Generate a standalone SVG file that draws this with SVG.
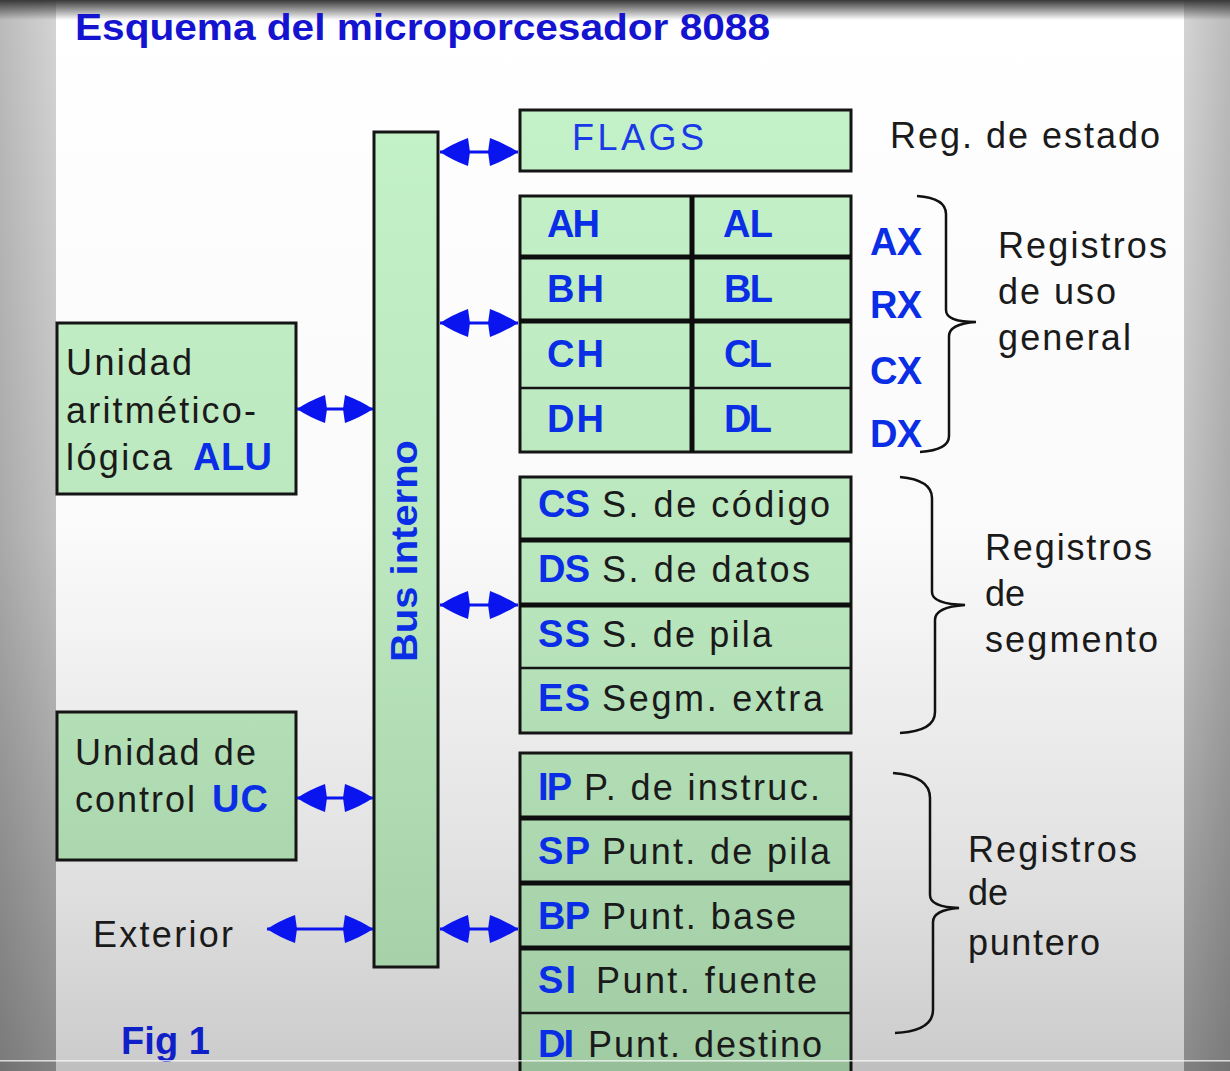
<svg xmlns="http://www.w3.org/2000/svg" width="1230" height="1071" viewBox="0 0 1230 1071">
<defs>
<linearGradient id="bg" x1="0" y1="0" x2="0" y2="1071" gradientUnits="userSpaceOnUse">
<stop offset="0" stop-color="#ffffff"/><stop offset="0.5" stop-color="#fafafa"/><stop offset="0.8" stop-color="#e2e2e2"/><stop offset="1" stop-color="#cbcbcb"/>
</linearGradient>
<linearGradient id="side" x1="0" y1="0" x2="0" y2="1071" gradientUnits="userSpaceOnUse">
<stop offset="0" stop-color="#d4d4d4"/><stop offset="0.5" stop-color="#c0c0c0"/><stop offset="1" stop-color="#8a8a8a"/>
</linearGradient>
<linearGradient id="sideL" x1="0" y1="0" x2="1" y2="0">
<stop offset="0" stop-color="#000" stop-opacity="0.12"/><stop offset="1" stop-color="#000" stop-opacity="0"/>
</linearGradient>
<linearGradient id="sideR" x1="0" y1="0" x2="1" y2="0">
<stop offset="0" stop-color="#000" stop-opacity="0"/><stop offset="1" stop-color="#000" stop-opacity="0.12"/>
</linearGradient>
<linearGradient id="topbar" x1="0" y1="0" x2="0" y2="1">
<stop offset="0" stop-color="#383838"/><stop offset="1" stop-color="#383838" stop-opacity="0"/>
</linearGradient>
<linearGradient id="green" x1="0" y1="100" x2="0" y2="1071" gradientUnits="userSpaceOnUse">
<stop offset="0" stop-color="#c4f2c8"/><stop offset="0.5" stop-color="#bae6bd"/><stop offset="1" stop-color="#a0cba3"/>
</linearGradient>
<marker id="ah" viewBox="0 0 30 28" refX="30" refY="14" markerWidth="30" markerHeight="28" markerUnits="userSpaceOnUse" orient="auto-start-reverse">
<path d="M2,0 Q18,6 30,14 Q18,22 2,28 L0,14 z" fill="#0a14ee"/>
</marker>
<style>
.box{fill:url(#green);stroke:#151515;stroke-width:3}
.thick{stroke:#0d0d0d;stroke-width:5}
.thin{stroke:#151515;stroke-width:2.5}
.t{font-family:"Liberation Sans",Arial,sans-serif;font-size:36px;fill:#1a1a1a}
.b{font-family:"Liberation Sans",Arial,sans-serif;font-size:38px;font-weight:bold;fill:#0a2ee6}
.blue{font-family:"Liberation Sans",Arial,sans-serif;font-size:36px;fill:#1a3ae8}
.title{font-family:"Liberation Sans",Arial,sans-serif;font-size:36px;font-weight:bold;fill:#1414d0}
.conn{stroke:#0a14ee;stroke-width:3;fill:none;marker-start:url(#ah);marker-end:url(#ah)}
.brace{stroke:#111;stroke-width:2.5;fill:none}
</style>
</defs>

<!-- background -->
<rect x="0" y="0" width="1230" height="1071" fill="url(#bg)"/>
<rect x="0" y="0" width="56" height="1071" fill="url(#side)"/>
<rect x="0" y="0" width="56" height="1071" fill="url(#sideL)"/>
<rect x="1184" y="0" width="46" height="1071" fill="url(#side)"/>
<rect x="1184" y="0" width="46" height="1071" fill="url(#sideR)"/>
<rect x="0" y="0" width="1230" height="20" fill="url(#topbar)"/>

<text class="title" x="75" y="40" textLength="695" lengthAdjust="spacingAndGlyphs">Esquema del microporcesador 8088</text>

<g id="bus">
<rect class="box" x="374" y="132" width="64" height="835"/>
<text class="b" transform="translate(417,662) rotate(-90)" x="0" y="0" textLength="222" lengthAdjust="spacingAndGlyphs" style="font-size:36px">Bus interno</text>
</g>

<g id="alu">
<rect class="box" x="57" y="323" width="239" height="171"/>
<text class="t" x="66" y="375" textLength="126" lengthAdjust="spacing">Unidad</text>
<text class="t" x="66" y="423" textLength="190" lengthAdjust="spacing">aritmético-</text>
<text class="t" x="66" y="470" textLength="106" lengthAdjust="spacing">lógica</text>
<text class="b" x="193" y="470" textLength="79" lengthAdjust="spacing">ALU</text>
</g>

<g id="uc">
<rect class="box" x="57" y="712" width="239" height="148"/>
<text class="t" x="75" y="765" textLength="181" lengthAdjust="spacing">Unidad de</text>
<text class="t" x="75" y="812" textLength="120" lengthAdjust="spacing">control</text>
<text class="b" x="212" y="812" textLength="56" lengthAdjust="spacing">UC</text>
</g>

<g id="exterior">
<text class="t" x="93" y="947" textLength="140" lengthAdjust="spacing">Exterior</text>
</g>

<g id="flags">
<rect class="box" x="520" y="110" width="331" height="61"/>
<text class="blue" x="572" y="150" textLength="132" lengthAdjust="spacing">FLAGS</text>
<text class="t" x="890" y="148" textLength="270" lengthAdjust="spacing">Reg. de estado</text>
</g>

<g id="reg-general">
<rect class="box" x="520" y="196" width="331" height="256"/>
<line class="thick" x1="692" y1="196" x2="692" y2="452"/>
<line class="thick" x1="520" y1="257" x2="851" y2="257"/>
<line class="thick" x1="520" y1="321" x2="851" y2="321"/>
<line class="thin" x1="520" y1="388" x2="851" y2="388"/>
<text class="b" x="547" y="237" textLength="53" lengthAdjust="spacing">AH</text>
<text class="b" x="723" y="237" textLength="50" lengthAdjust="spacing">AL</text>
<text class="b" x="547" y="302" textLength="57" lengthAdjust="spacing">BH</text>
<text class="b" x="724" y="302" textLength="49" lengthAdjust="spacing">BL</text>
<text class="b" x="547" y="367" textLength="57" lengthAdjust="spacing">CH</text>
<text class="b" x="724" y="367" textLength="48" lengthAdjust="spacing">CL</text>
<text class="b" x="547" y="432" textLength="57" lengthAdjust="spacing">DH</text>
<text class="b" x="724" y="432" textLength="48" lengthAdjust="spacing">DL</text>
<text class="b" x="870" y="255" textLength="52" lengthAdjust="spacing">AX</text>
<text class="b" x="870" y="318" textLength="52" lengthAdjust="spacing">RX</text>
<text class="b" x="870" y="384" textLength="52" lengthAdjust="spacing">CX</text>
<text class="b" x="870" y="447" textLength="52" lengthAdjust="spacing">DX</text>
<path class="brace" d="M917,196 Q946,198 946,214 L946,310 Q946,322 976,322 Q949,324 949,336 L949,436 Q949,450 920,452"/>
<text class="t" x="998" y="258" textLength="169" lengthAdjust="spacing">Registros</text>
<text class="t" x="998" y="304" textLength="118" lengthAdjust="spacing">de uso</text>
<text class="t" x="998" y="350" textLength="133" lengthAdjust="spacing">general</text>
</g>

<g id="reg-segmento">
<rect class="box" x="520" y="477" width="331" height="256"/>
<line class="thick" x1="520" y1="540" x2="851" y2="540"/>
<line class="thick" x1="520" y1="605" x2="851" y2="605"/>
<line class="thin" x1="520" y1="668" x2="851" y2="668"/>
<text class="b" x="538" y="517" textLength="52" lengthAdjust="spacing">CS</text>
<text class="t" x="602" y="517" textLength="228" lengthAdjust="spacing">S. de código</text>
<text class="b" x="538" y="582" textLength="52" lengthAdjust="spacing">DS</text>
<text class="t" x="602" y="582" textLength="208" lengthAdjust="spacing">S. de datos</text>
<text class="b" x="538" y="647" textLength="52" lengthAdjust="spacing">SS</text>
<text class="t" x="602" y="647" textLength="170" lengthAdjust="spacing">S. de pila</text>
<text class="b" x="538" y="711" textLength="52" lengthAdjust="spacing">ES</text>
<text class="t" x="602" y="711" textLength="221" lengthAdjust="spacing">Segm. extra</text>
<path class="brace" d="M900,477 Q932,480 932,498 L932,592 Q932,604 965,605 Q935,607 935,620 L935,712 Q935,731 900,733"/>
<text class="t" x="985" y="560" textLength="167" lengthAdjust="spacing">Registros</text>
<text class="t" x="985" y="606" textLength="40" lengthAdjust="spacing">de</text>
<text class="t" x="985" y="652" textLength="173" lengthAdjust="spacing">segmento</text>
</g>

<g id="reg-puntero">
<rect class="box" x="520" y="753" width="331" height="330"/>
<line class="thick" x1="520" y1="818" x2="851" y2="818"/>
<line class="thick" x1="520" y1="883" x2="851" y2="883"/>
<line class="thick" x1="520" y1="948" x2="851" y2="948"/>
<line class="thin" x1="520" y1="1013" x2="851" y2="1013"/>
<text class="b" x="538" y="800" textLength="34" lengthAdjust="spacing">IP</text>
<text class="t" x="584" y="800" textLength="236" lengthAdjust="spacing">P. de instruc.</text>
<text class="b" x="538" y="864" textLength="52" lengthAdjust="spacing">SP</text>
<text class="t" x="602" y="864" textLength="228" lengthAdjust="spacing">Punt. de pila</text>
<text class="b" x="538" y="929" textLength="52" lengthAdjust="spacing">BP</text>
<text class="t" x="602" y="929" textLength="194" lengthAdjust="spacing">Punt. base</text>
<text class="b" x="538" y="993" textLength="38" lengthAdjust="spacing">SI</text>
<text class="t" x="596" y="993" textLength="221" lengthAdjust="spacing">Punt. fuente</text>
<text class="b" x="538" y="1057" textLength="36" lengthAdjust="spacing">DI</text>
<text class="t" x="588" y="1057" textLength="234" lengthAdjust="spacing">Punt. destino</text>
<path class="brace" d="M893,773 Q930,776 930,798 L930,895 Q930,907 959,908 Q933,910 933,922 L933,1010 Q933,1031 895,1033"/>
<text class="t" x="968" y="862" textLength="169" lengthAdjust="spacing">Registros</text>
<text class="t" x="968" y="905" textLength="40" lengthAdjust="spacing">de</text>
<text class="t" x="968" y="955" textLength="132" lengthAdjust="spacing">puntero</text>
</g>

<g id="connectors">
<line class="conn" x1="440" y1="152" x2="518" y2="152"/>
<line class="conn" x1="440" y1="323" x2="518" y2="323"/>
<line class="conn" x1="440" y1="605" x2="518" y2="605"/>
<line class="conn" x1="440" y1="929" x2="518" y2="929"/>
<line class="conn" x1="297" y1="409" x2="373" y2="409"/>
<line class="conn" x1="297" y1="798" x2="373" y2="798"/>
<line class="conn" x1="267" y1="929" x2="373" y2="929"/>
</g>

<text class="b" x="121" y="1054" textLength="89" lengthAdjust="spacing" style="fill:#1020c8">Fig 1</text>

<rect x="0" y="1060" width="1230" height="1.5" fill="#f2f2f2" opacity="0.8"/>
<rect x="0" y="1062" width="1230" height="9" fill="#000" opacity="0.06"/>
</svg>
